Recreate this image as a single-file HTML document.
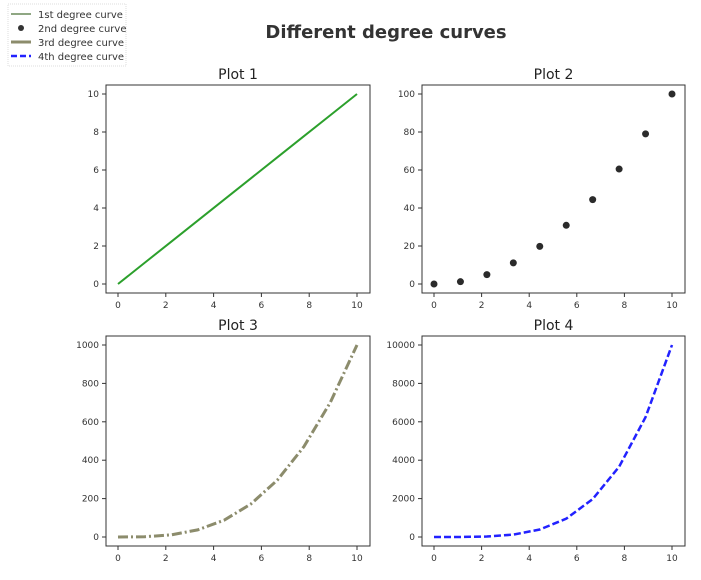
<!DOCTYPE html>
<html><head><meta charset="utf-8"><style>
body{margin:0;background:#fff;width:701px;height:576px;overflow:hidden;font-family:"DejaVu Sans","Liberation Sans",sans-serif}
</style></head><body>
<svg id="c" width="701" height="576" xmlns="http://www.w3.org/2000/svg">
<text x="386" y="38" text-anchor="middle" font-size="18" font-weight="bold" fill="#333">Different degree curves</text>
<g>
<rect x="8" y="4" width="118" height="62" fill="#fff" stroke="#ddd" stroke-dasharray="1,1"/>
<line x1="11" y1="14" x2="31" y2="14" stroke="#6a8a5a" stroke-width="1.5"/>
<text x="38" y="18" font-size="10" fill="#333">1st degree curve</text>
<circle cx="21" cy="28" r="3" fill="#333"/>
<text x="38" y="32" font-size="10" fill="#333">2nd degree curve</text>
<line x1="11" y1="42" x2="31" y2="42" stroke="#8c8c6c" stroke-width="3"/>
<text x="38" y="46" font-size="10" fill="#333">3rd degree curve</text>
<line x1="11" y1="56" x2="31" y2="56" stroke="#2222ff" stroke-width="2.5" stroke-dasharray="6,3"/>
<text x="38" y="60" font-size="10" fill="#333">4th degree curve</text>
</g>
</svg>
<script>
const xs=[0,1.111,2.222,3.333,4.444,5.556,6.667,7.778,8.889,10];
const y1=[0,1.111,2.222,3.333,4.444,5.556,6.667,7.778,8.889,10];
const y2=[0,1.23,4.94,11.1,19.8,30.9,44.4,60.5,79.0,100];
const y3=[0,1.37,11.0,37.0,87.8,171.5,296.3,470.5,702.3,1000];
const y4=[0,1.52,24.4,123.5,390.2,952.6,1975.3,3659.6,6242.9,10000];
const xTicks=[0,2,4,6,8,10];
const yTicks1=[0,2,4,6,8,10],yTicks2=[0,20,40,60,80,100],yTicks3=[0,200,400,600,800,1000],yTicks4=[0,2000,4000,6000,8000,10000];
const svg=document.getElementById('c');const NS='http://www.w3.org/2000/svg';
function mk(t,a,p){const e=document.createElementNS(NS,t);for(const k in a)e.setAttribute(k,a[k]);(p||svg).appendChild(e);return e;}
function panel(n,L,T,R,B,ys,yt,ymax,style){
 const g=mk('g',{});
 
 
 const x0=L+12,x1=R-13,yb=B-9,yt0=T+9;
 const sx=v=>x0+v/10*(x1-x0), sy=v=>yb-v/ymax*(yb-yt0);
 mk('rect',{x:L,y:T,width:R-L,height:B-T,fill:'none',stroke:'#333','stroke-width':1},g);
 const t=mk('text',{x:(L+R)/2,y:T-6,'text-anchor':'middle','font-size':14,fill:'#222'},g);t.textContent='Plot '+n;
 
 
 xTicks.forEach(v=>{mk('line',{x1:sx(v),x2:sx(v),y1:B,y2:B+4,stroke:'#333'},g);const l=mk('text',{x:sx(v),y:B+15,'text-anchor':'middle','font-size':9,fill:'#333'},g);l.textContent=v;});
 yt.forEach(v=>{mk('line',{x1:L-4,x2:L,y1:sy(v),y2:sy(v),stroke:'#333'},g);const l=mk('text',{x:L-7,y:sy(v)+3,'text-anchor':'end','font-size':9,fill:'#333'},g);l.textContent=v;});
 if(style==='dot'){xs.forEach((x,i)=>{const c=mk('circle',{cx:sx(x),cy:sy(ys[i]),r:3.5,fill:'#2b2b2b'},g);
 
 });}
 else{const p=mk('polyline',Object.assign({points:xs.map((x,i)=>sx(x)+','+sy(ys[i])).join(' '),fill:'none'},style),g);
 
 }
}
panel(1,106,85,370,293,y1,yTicks1,10,{stroke:'#2ca02c','stroke-width':2});
panel(2,422,85,685,293,y2,yTicks2,100,'dot');
panel(3,106,336,370,546,y3,yTicks3,1000,{stroke:'#8c8c6c','stroke-width':3,'stroke-dasharray':'10,3,2,3'});
panel(4,422,336,685,546,y4,yTicks4,10000,{stroke:'#2222ff','stroke-width':2.5,'stroke-dasharray':'7,3'});
</script>
</body></html>
